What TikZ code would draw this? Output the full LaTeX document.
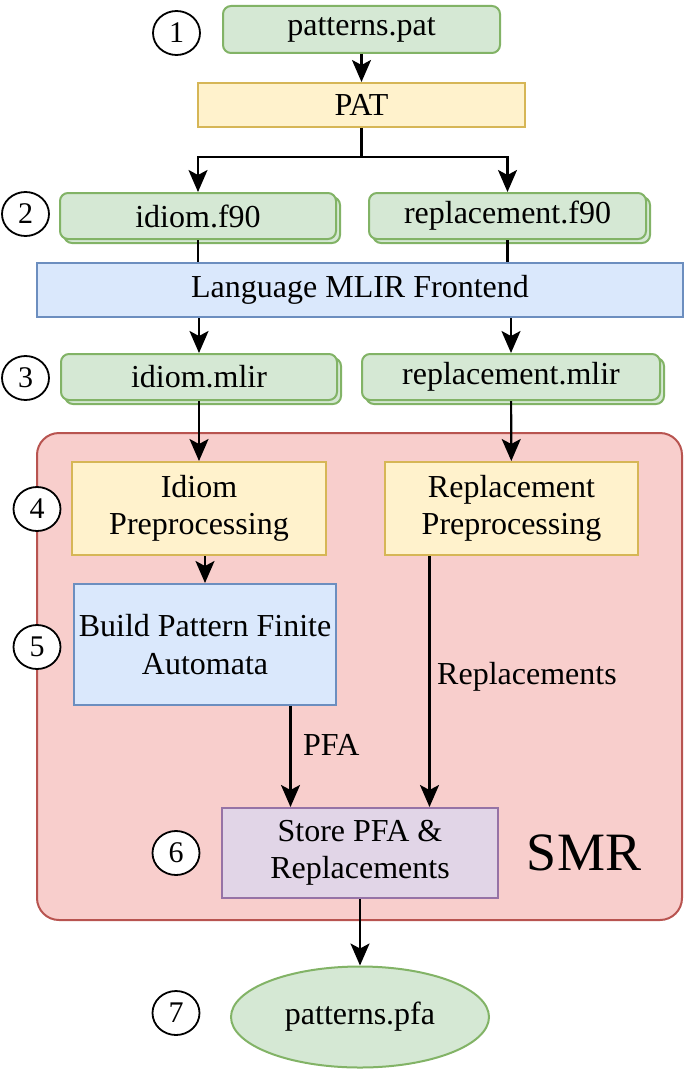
\documentclass[tikz,border=0pt]{standalone}
\usepackage{fontspec}
\setmainfont{Liberation Serif}
\newfontfamily\figfont{Liberation Serif}
\usetikzlibrary{arrows.meta,shapes.geometric,shadows,calc}
\definecolor{gfill}{HTML}{D5E8D4}\definecolor{gline}{HTML}{82B366}
\definecolor{yfill}{HTML}{FFF2CC}\definecolor{yline}{HTML}{D6B656}
\definecolor{bfill}{HTML}{DAE8FC}\definecolor{bline}{HTML}{6C8EBF}
\definecolor{rfill}{HTML}{F8CECC}\definecolor{rline}{HTML}{B85450}
\definecolor{pfill}{HTML}{E1D5E7}\definecolor{pline}{HTML}{9673A6}
\begin{document}
\begin{tikzpicture}[x=1pt,y=-1pt,
  base/.style={font=\figfont\fontsize{32}{37.5}\selectfont, inner sep=0pt, line width=2pt, align=center},
  gbox/.style={base, draw=gline, fill=gfill, rounded corners=8pt},
  docbox/.style={gbox, copy shadow={shadow xshift=4pt, shadow yshift=-4pt}},
  ybox/.style={base, draw=yline, fill=yfill},
  bbox/.style={base, draw=bline, fill=bfill},
  pbox/.style={base, draw=pline, fill=pfill},
  num/.style={ellipse, draw=black, fill=white, line width=1.8pt, minimum width=47pt,
    minimum height=44pt, inner sep=0pt, font=\figfont\fontsize{30}{30}\selectfont},
  arr/.style={-{Stealth[length=22pt,width=19pt,inset=5pt]}, line width=2.2pt},
  conn/.style={line width=2.2pt},
  lbl/.style={font=\figfont\fontsize{32}{37.5}\selectfont, inner sep=0pt, anchor=west}]
\useasboundingbox (0,0) rectangle (685,1070);

% SMR container
\draw[line width=2pt, draw=rline, fill=rfill, rounded corners=22pt] (37,433) rectangle (682,920);
\node[font=\figfont\fontsize{54}{60}\selectfont, inner sep=0pt] (smr) at (584,853) {SMR};

% input files and front end
\node[gbox, minimum width=277pt, minimum height=47pt] (pat) at (361.5,29.5) {patterns.pat};
\node[ybox, minimum width=327pt, minimum height=44pt] (patc) at (361.5,105) {PAT};
\node[docbox, minimum width=276pt, minimum height=46pt] (idiomf) at (198,216) {idiom.f90};
\node[docbox, minimum width=277pt, minimum height=46pt] (replf) at (507.5,216) {replacement.f90};
\node[bbox, minimum width=646pt, minimum height=54pt] (front) at (360,290) {Language MLIR Frontend};
\node[docbox, minimum width=276pt, minimum height=46pt] (idiomm) at (199,377) {idiom.mlir};
\node[docbox, minimum width=298pt, minimum height=46pt] (replm) at (511,377) {replacement.mlir};

% SMR stages
\node[ybox, minimum width=254pt, minimum height=93pt] (idpre) at (199,508.5) {Idiom\\Preprocessing};
\node[ybox, minimum width=253pt, minimum height=93pt] (rppre) at (511.5,508.5) {Replacement\\Preprocessing};
\node[bbox, minimum width=262pt, minimum height=121pt] (build) at (205,644.5) {Build Pattern Finite\\Automata};
\node[pbox, minimum width=276pt, minimum height=90pt] (store) at (360,853) {Store PFA \&\\Replacements};

% output
\node[base, ellipse, draw=gline, fill=gfill, minimum width=258pt, minimum height=101pt] (pfa) at (360,1017) {patterns.pfa};

% step numbers
\node[num] (n1) at (176.5,33) {1};
\node[num] (n2) at (25.5,214) {2};
\node[num] (n3) at (25.5,378) {3};
\node[num] (n4) at (37,509) {4};
\node[num] (n5) at (37,647) {5};
\node[num] (n6) at (176,853) {6};
\node[num] (n7) at (176,1013) {7};

% connectors
\coordinate (split) at (361.5,157);
\coordinate (stL) at ($(store.north west)!0.25!(store.north east)$);
\coordinate (stR) at ($(store.north west)!0.75!(store.north east)$);
\draw[arr] (pat) -- (patc);
\draw[conn] (patc) -- (split);
\draw[arr] (split) -| (idiomf.north);
\draw[arr] (split) -| (replf.north);
\draw[conn] (idiomf) -- (idiomf.south |- front.north);
\draw[conn] (replf) -- (replf.south |- front.north);
\draw[arr] (front.south -| idiomm.north) -- (idiomm.north);
\draw[arr] (front.south -| replm.north) -- (replm.north);
\draw[arr] (idiomm) -- (idpre);
\draw[arr] (replm) -- (rppre);
\draw[arr] (idpre.south -| build.north) -- (build.north);
\draw[arr] (build.south -| stL) -- (stL);
\draw[arr] (rppre.south -| stR) -- (stR);
\draw[arr] (store) -- (pfa);

% edge labels
\node[lbl] (lpfa) at (303,745) {PFA};
\node[lbl] (lrep) at (437,677) {Replacements};
\end{tikzpicture}
\end{document}
